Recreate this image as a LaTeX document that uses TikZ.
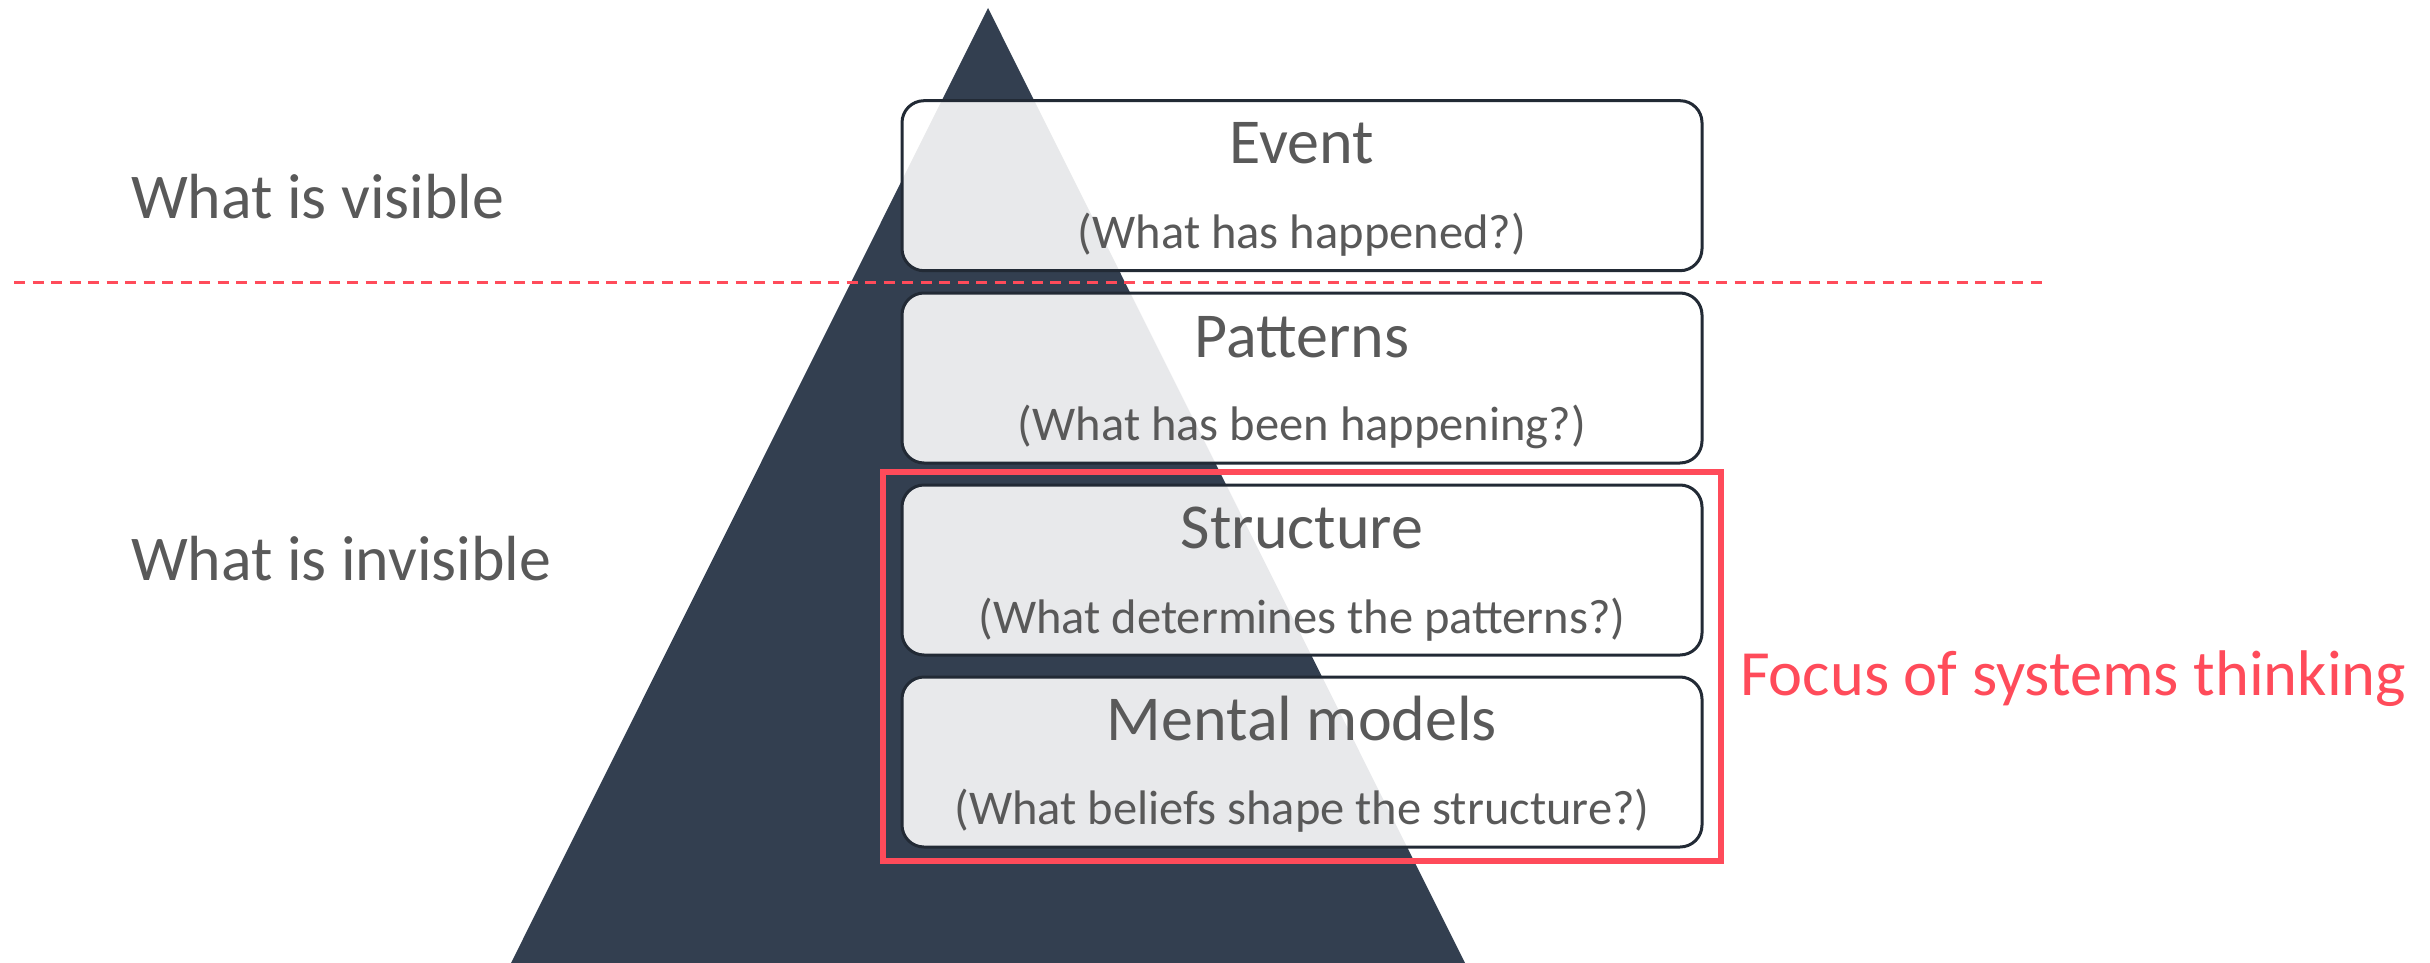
\documentclass[tikz,border=0pt]{standalone}
\usepackage{fontspec}
\setmainfont{Carlito}
\definecolor{tri}{HTML}{333F50}
\definecolor{boxline}{HTML}{222A35}
\definecolor{txt}{HTML}{595959}
\definecolor{focus}{HTML}{FF4B5A}
\tikzset{
  layerbox/.style={draw=boxline, line width=3pt, rounded corners=22pt, fill=white, fill opacity=0.89},
  title/.style={anchor=base, inner sep=0pt, text=txt, font=\fontsize{64}{76}\selectfont},
  subtitle/.style={anchor=base, inner sep=0pt, text=txt, font=\fontsize{48.5}{58}\selectfont},
  sidelabel/.style={anchor=base west, inner sep=0pt, text=txt, font=\fontsize{63.8}{76}\selectfont},
}
\begin{document}
\begin{tikzpicture}[x=1pt, y=-1pt]
\useasboundingbox (0,0) rectangle (2430,963);
% pyramid
\coordinate (apex) at (988,8);
\coordinate (bl) at (511,963);
\coordinate (br) at (1465,963);
\fill[tri] (apex) -- (br) -- (bl) -- cycle;
% layer boxes
\foreach \n/\t in {ev/100.7, pa/293, st/485, mm/677}{
  \path[layerbox] (902,\t) rectangle (1702,\t+170);
}
\node[title] (evT) at (1302,164) {Event};
\node[subtitle] (evS) at (1302,248) {(What has happened?)};
\node[title] (paT) at (1302,357) {Patterns};
\node[subtitle] (paS) at (1302,440) {(What has been happening?)};
\node[title] (stT) at (1302,548) {Structure};
\node[subtitle] (stS) at (1302,633) {(What determines the patterns?)};
\node[title] (mmT) at (1302,740) {Mental models};
\node[subtitle] (mmS) at (1302,824) {(What beliefs shape the structure?)};
% focus frame
\draw[focus, line width=5.5pt] (883,472) rectangle (1721,861);
\node[anchor=base west, inner sep=0pt, text=focus, font=\fontsize{64.5}{77}\selectfont] (foc) at (1740,695) {Focus of systems thinking};
% side labels
\node[sidelabel] (vis) at (131,218) {What is visible};
\node[sidelabel] (invis) at (131,580) {What is invisible};
% dashed divider
\coordinate (dl) at (14,282);
\coordinate (dr) at (2046,282);
\draw[focus, line width=3pt, dash pattern=on 11pt off 7.5pt] (dl) -- (dr);
\end{tikzpicture}
\end{document}
